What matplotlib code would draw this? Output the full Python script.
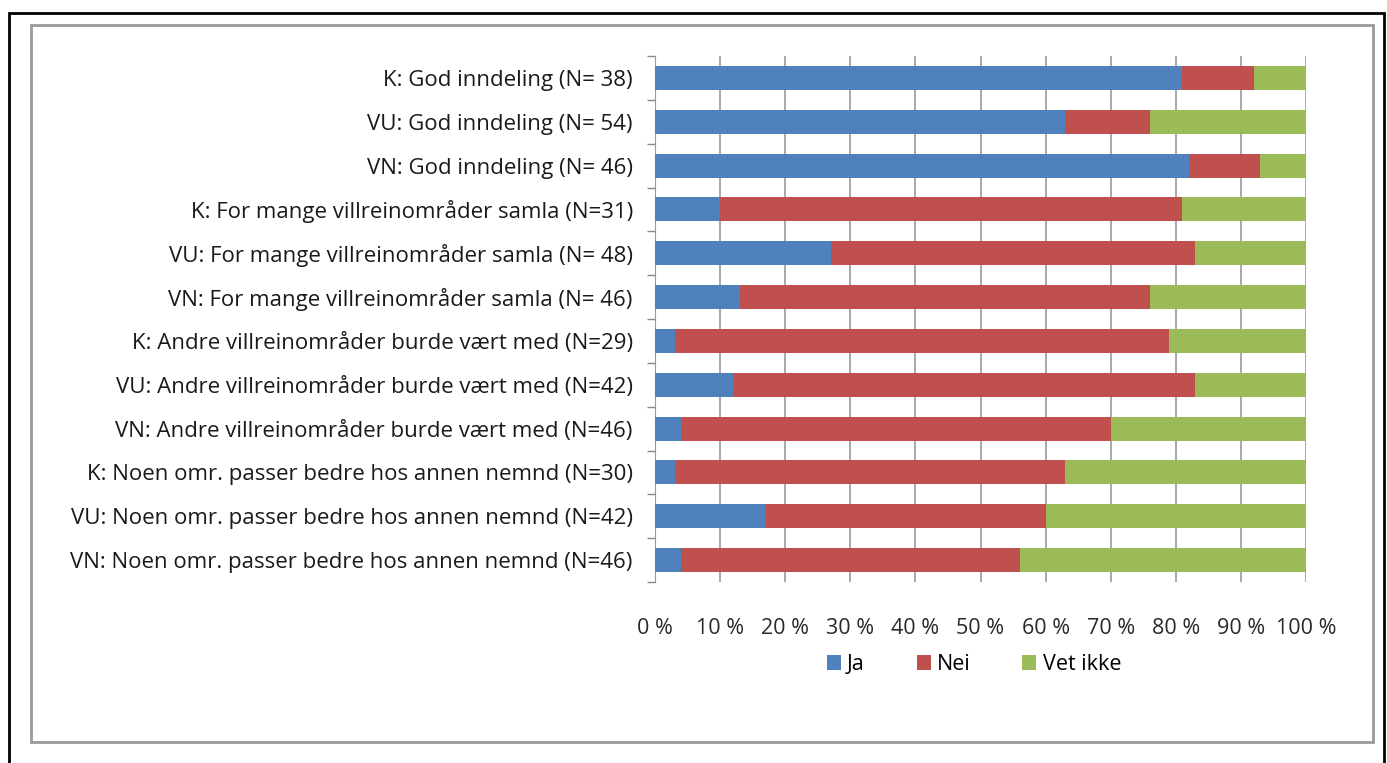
import numpy as np
import matplotlib.pyplot as plt
from matplotlib.patches import Rectangle

plt.rcParams['font.family'] = ['Open Sans', 'DejaVu Sans']

labels = [
    "K: God inndeling (N= 38)",
    "VU: God inndeling (N= 54)",
    "VN: God inndeling (N= 46)",
    "K: For mange villreinområder samla (N=31)",
    "VU: For mange villreinområder samla (N= 48)",
    "VN: For mange villreinområder samla (N= 46)",
    "K: Andre villreinområder burde vært med (N=29)",
    "VU: Andre villreinområder burde vært med (N=42)",
    "VN: Andre villreinområder burde vært med (N=46)",
    "K: Noen omr. passer bedre hos annen nemnd (N=30)",
    "VU: Noen omr. passer bedre hos annen nemnd (N=42)",
    "VN: Noen omr. passer bedre hos annen nemnd (N=46)",
]
ja = [81, 63, 82, 10, 27, 13, 3, 12, 4, 3, 17, 4]
nei = [11, 13, 11, 71, 56, 63, 76, 71, 66, 60, 43, 52]
vet_ikke = [8, 24, 7, 19, 17, 24, 21, 17, 30, 37, 40, 44]
series_names = ["Ja", "Nei", "Vet ikke"]
colors = ["#4f81bd", "#c0504d", "#9bbb59"]

fig = plt.figure(figsize=(13.87, 7.63), dpi=100)
ax = fig.add_axes([655/1387, 1 - 582/763, 651/1387, 526/763])

y = np.arange(len(labels))
left = np.zeros(len(labels))
for vals, name, c in zip([ja, nei, vet_ikke], series_names, colors):
    ax.barh(y, vals, left=left, height=0.55, color=c, label=name, zorder=3)
    left += np.array(vals)

ax.set_xlim(0, 100)
ax.set_ylim(len(labels) - 0.5, -0.5)
ax.set_xticks(np.arange(0, 101, 10))
ax.set_xticklabels([f"{v} %" for v in range(0, 101, 10)], fontsize=15.5, color="#2a2a2a")
ax.tick_params(axis='x', length=0, pad=26)
ax.set_yticks(y)
ax.set_yticklabels(labels, fontsize=16, color="#1a1a1a")
ax.tick_params(axis='y', which='major', length=0, pad=16)
ax.set_yticks(np.arange(-0.5, len(labels)), minor=True)
ax.tick_params(axis='y', which='minor', length=6, color="#888888", width=1)
ax.grid(axis='x', color="#999999", linewidth=1.2, zorder=0)
for s in ['top', 'right', 'bottom']:
    ax.spines[s].set_visible(False)
ax.spines['left'].set_color("#999999")

ax.legend(loc='upper center', bbox_to_anchor=(0.49, -0.1), ncol=3, frameon=False,
          fontsize=15.5, handlelength=0.65, handleheight=0.65, columnspacing=2.4, handletextpad=0.3)

# borders
fig.patches.append(Rectangle((9/1387, -0.01), 1375/1387, 1 - 13/763 + 0.01, transform=fig.transFigure,
                             fill=False, edgecolor="black", linewidth=2))
fig.patches.append(Rectangle((31/1387, 1 - 742/763), 1342/1387, (742 - 25)/763, transform=fig.transFigure,
                             fill=False, edgecolor="#999999", linewidth=2))

fig.savefig("out.png", dpi=100)
